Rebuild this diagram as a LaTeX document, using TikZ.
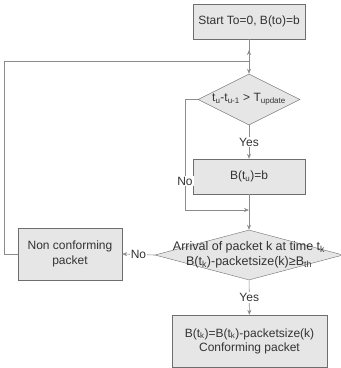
\documentclass[tikz,border=0pt]{standalone}
\usepackage{fontspec}
\setmainfont{Liberation Sans}
\usetikzlibrary{shapes.geometric,arrows.meta}

\definecolor{boxfill}{HTML}{E6E6E6}
\definecolor{boxline}{HTML}{6E6E6E}
\definecolor{wirecol}{HTML}{8C8C8C}
\definecolor{ink}{HTML}{333333}

\tikzset{
  block/.style={draw=boxline,fill=boxfill,rectangle,align=center,inner sep=0pt},
  decide/.style={draw=boxline,fill=boxfill,diamond,inner sep=0pt},
  link/.style={draw=wirecol,line width=0.6pt},
  arr/.style={-{Stealth[length=5pt,width=4pt]}},
  lbl/.style={fill=white,inner sep=1pt}
}

\begin{document}
\begin{tikzpicture}[x=1pt,y=-1pt,text=ink,font=\fontsize{12}{14}\selectfont]
\useasboundingbox (0,0) rectangle (341,368);
\node[block,minimum width=112pt,minimum height=35pt] (start) at (249,21.5) {Start To=0, B(to)=b};
\node[decide,minimum width=102pt,minimum height=51pt] (upd) at (249,99.5) {};
\node (updtxt) at (upd) {t\textsubscript{u}-t\textsubscript{u-1} > T\textsubscript{update}};
\node[block,minimum width=112pt,minimum height=35pt] (reset) at (249,176.5) {B(t\textsubscript{u})=b};
\node[decide,minimum width=188pt,minimum height=50pt] (arrival) at (249,255) {};
\node[align=center,font=\fontsize{12.5}{15}\selectfont] (arrtxt) at (249,254.5) {Arrival of packet k at time t\textsubscript{k}\\B(t\textsubscript{k})-packetsize(k)≥B\textsubscript{th}};
\node[block,minimum width=104pt,minimum height=52pt,font=\fontsize{12}{15}\selectfont] (noncon) at (70,254) {Non conforming\\packet};
\node[block,minimum width=155pt,minimum height=52pt] (conf) at (249.5,341) {B(t\textsubscript{k})=B(t\textsubscript{k})-packetsize(k)\\Conforming packet};

\coordinate (loopin) at (249,61);
\coordinate (looptip) at (249,50);
\coordinate (nobend) at (185,210);
\coordinate (merge) at (249,210);

\draw[link,arr] (start) -- (upd);
\draw[link,arr] (noncon.west) -- ++(-13,0) |- (loopin) -- (looptip);
\draw[link,arr] (upd) -- node[lbl]{Yes} (reset);
\draw[link,arr] (upd.west) -| node[lbl,pos=0.87]{No} (nobend) -- (merge);
\draw[link,arr] (reset) -- (arrival);
\draw[link,arr] (arrival.west) -- node[lbl]{No} (noncon.east);
\draw[link,arr] (arrival) -- node[lbl]{Yes} (conf);
\end{tikzpicture}
\end{document}
